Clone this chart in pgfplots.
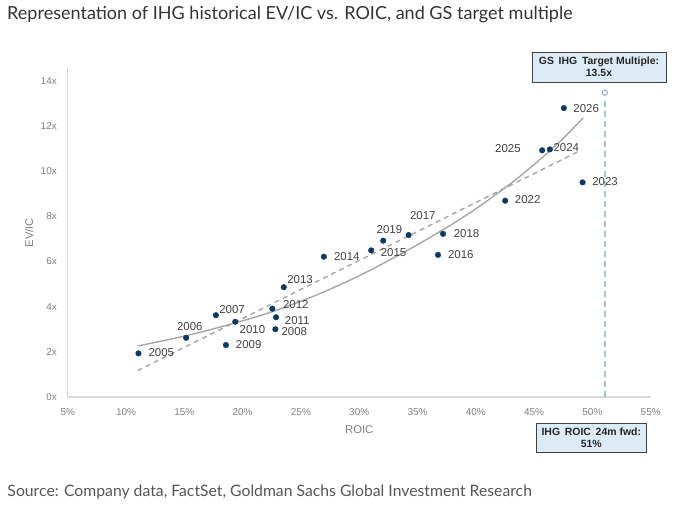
\documentclass[border=0pt]{standalone}
\usepackage{pgfplots}
\pgfplotsset{compat=1.18}
\usepackage{pgfplotstable}
\usepackage{fontspec}
\setmainfont{Liberation Sans}
\newfontfamily\titlefont{Lato}
\definecolor{navy}{HTML}{0D3A63}
\definecolor{trend}{HTML}{A6A6A6}
\definecolor{axisgray}{HTML}{D9D9D9}
\definecolor{tickgray}{HTML}{7F7F7F}
\definecolor{labgray}{HTML}{404040}
\definecolor{vline}{HTML}{9DC3E6}
\definecolor{boxfill}{HTML}{DDEBF7}
\definecolor{titlegray}{HTML}{333333}
\definecolor{srcgray}{HTML}{555555}
\definecolor{tgtedge}{HTML}{8FA9C4}

\pgfplotstableread{
lab x y dx dy
2005 11.07 1.93 22.8 0.6
2006 15.16 2.62 3.7 11
2007 17.71 3.62 16.2 5.3
2008 22.81 3.00 18.9 -2.4
2009 18.57 2.30 22.8 0.7
2010 19.37 3.33 17.2 -7.6
2011 22.87 3.53 21.2 -3
2012 22.55 3.91 23.5 3.7
2013 23.53 4.86 16.3 7.3
2014 26.97 6.21 23 0
2015 31.03 6.49 22.3 -2.3
2016 36.76 6.29 22.8 0
2017 34.24 7.17 14.2 19.3
2018 37.19 7.22 23.5 0.7
2019 32.06 6.92 6.2 11
2022 42.52 8.69 22.5 0.7
2023 49.16 9.50 22.5 0.6
2024 46.35 10.96 16.5 2
2025 45.69 10.92 -34.2 2
2026 47.55 12.79 22.4 0
}\points

\begin{document}
\begin{tikzpicture}
\useasboundingbox (0,0) rectangle (680bp,506bp);
\begin{axis}[
  at={(67.7bp,109bp)}, anchor=south west,
  scale only axis, width=583bp, height=328.7bp,
  xmin=5, xmax=55, ymin=0, ymax=14.55,
  enlargelimits=false, clip=false,
  axis x line=bottom, axis y line=left,
  axis line style={draw=axisgray, line width=1.2bp, -},
  major tick length=0pt,
  xtick={5,10,...,55}, ytick={0,2,...,14},
  xticklabel={\pgfmathprintnumber{\tick}\%},
  yticklabel={\pgfmathprintnumber{\tick}x},
  /pgf/number format/assume math mode=true,
  tick label style={font=\fontsize{10}{12}\selectfont, text=tickgray, inner sep=0pt},
  xticklabel style={anchor=north, yshift=-11bp},
  yticklabel style={anchor=east, xshift=-10.7bp},
  xlabel={ROIC}, ylabel={EV/IC},
  label style={font=\fontsize{11.3}{13}\selectfont, text=tickgray, inner sep=0pt},
  xlabel style={at={(axis description cs:0.5,-0.0983)}, anchor=center},
  ylabel style={at={(axis description cs:-0.0664,0.5)}, anchor=center, rotate=0},
]
\addplot[trend, line width=1.4bp, dash pattern=on 5bp off 4bp] coordinates {(11,1.17) (49.05,10.93)};
\addplot[trend, line width=1.4bp, smooth] coordinates {
 (11,2.26) (13,2.47) (15.2,2.72) (17,2.95) (19.35,3.28) (21.5,3.6) (23.5,3.95)
 (25,4.24) (26.5,4.55) (28.4,4.98) (30.4,5.47) (32.2,5.95) (34.1,6.48) (36,7.04)
 (38,7.66) (40.2,8.4) (42.4,9.22) (44,9.86) (45.7,10.6) (47.5,11.45) (49.2,12.35)};
\addplot[vline, line width=1.5bp, dash pattern=on 6bp off 4bp] coordinates {(51.07,0) (51.07,13.2)};
\addplot[only marks, mark=*, mark size=2.8bp, navy,
  point meta=explicit symbolic,
  nodes near coords,
  visualization depends on={\thisrow{dx} \as \mydx},
  visualization depends on={\thisrow{dy} \as \mydy},
  every node near coord/.append style={anchor=center, xshift=\mydx*1bp, yshift=\mydy*1bp,
     font=\fontsize{11.5}{13}\selectfont, text=labgray, inner sep=0pt},
] table[x=x, y=y, meta=lab] {\points};
\addplot[only marks, mark=o, mark size=2.6bp, draw=tgtedge, fill=white, line width=1bp] coordinates {(51.07,13.47)};
\end{axis}
\node[draw=labgray, fill=boxfill, line width=0.8bp, minimum width=134bp, minimum height=30bp,
  inner sep=0pt, align=center, font=\bfseries\fontsize{10.5}{12}\selectfont, text=black!85]
  at (599bp,439bp) {GS\hspace{0.45em}IHG\hspace{0.45em}Target Multiple:\\13.5x};
\node[draw=labgray, fill=boxfill, line width=0.8bp, minimum width=109.3bp, minimum height=29bp,
  inner sep=0pt, align=center, font=\bfseries\fontsize{10.5}{12}\selectfont, text=black!85]
  at (591.3bp,68.2bp) {IHG\hspace{0.45em}ROIC\hspace{0.45em}24m fwd:\\51\%};
\node[anchor=base west, inner sep=0pt, font=\titlefont\fontsize{18.1}{21}\selectfont, text=titlegray]
  at (7bp,486.7bp) {Representation of IHG historical EV/IC vs. ROIC, and GS target multiple};
\node[anchor=base west, inner sep=0pt, font=\titlefont\fontsize{15.8}{19}\selectfont, text=srcgray]
  at (7.3bp,10bp) {Source: Company data, FactSet, Goldman Sachs Global Investment Research};
\end{tikzpicture}
\end{document}
